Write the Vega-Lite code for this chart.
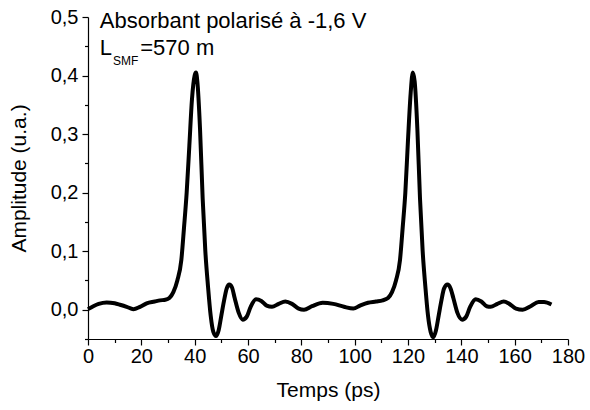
{
  "$schema": "https://vega.github.io/schema/vega-lite/v6.json",
  "autosize": {"type": "none"},
  "padding": {"left": 88, "top": 17, "right": 22, "bottom": 71},
  "width": 480,
  "height": 322,
  "config": {
    "view": {"stroke": null},
    "font": "Liberation Sans",
    "axis": {
      "domainColor": "#000", "tickColor": "#000", "labelColor": "#000", "titleColor": "#000",
      "labelFont": "Liberation Sans", "titleFont": "Liberation Sans",
      "labelFontSize": 20, "titleFontSize": 21, "titleFontWeight": "normal",
      "grid": false, "domainWidth": 1.2, "tickWidth": 1.2, "labelPadding": 2, "labelOverlap": false
    }
  },
  "datasets": {
    "signal": [
    {"t": 0, "v": 0.001}, {"t": 2, "v": 0.006}, {"t": 4, "v": 0.010}, {"t": 7, "v": 0.0125},
    {"t": 10, "v": 0.011}, {"t": 12, "v": 0.0085}, {"t": 14.5, "v": 0.005}, {"t": 17, "v": 0.001},
    {"t": 19.5, "v": 0.005}, {"t": 22, "v": 0.011}, {"t": 25, "v": 0.014}, {"t": 27, "v": 0.016},
    {"t": 29, "v": 0.017}, {"t": 30.5, "v": 0.02}, {"t": 32, "v": 0.03}, {"t": 33.5, "v": 0.05},
    {"t": 35, "v": 0.085}, {"t": 36, "v": 0.14}, {"t": 37, "v": 0.2}, {"t": 38, "v": 0.28},
    {"t": 39, "v": 0.36}, {"t": 40, "v": 0.4}, {"t": 40.5, "v": 0.405}, {"t": 41, "v": 0.39},
    {"t": 42, "v": 0.31}, {"t": 43, "v": 0.19}, {"t": 44, "v": 0.1}, {"t": 45, "v": 0.04},
    {"t": 46, "v": -0.01}, {"t": 47, "v": -0.038}, {"t": 48, "v": -0.045}, {"t": 49, "v": -0.035},
    {"t": 50, "v": -0.01}, {"t": 51, "v": 0.015}, {"t": 52, "v": 0.036}, {"t": 53, "v": 0.043},
    {"t": 54, "v": 0.038}, {"t": 55, "v": 0.02}, {"t": 56.5, "v": -0.005}, {"t": 58, "v": -0.017},
    {"t": 59.5, "v": -0.012}, {"t": 61, "v": 0.005}, {"t": 63, "v": 0.018}, {"t": 65, "v": 0.015},
    {"t": 67, "v": 0.007}, {"t": 69, "v": 0.005}, {"t": 71.5, "v": 0.01}, {"t": 74, "v": 0.014},
    {"t": 76.5, "v": 0.01}, {"t": 79, "v": 0.002}, {"t": 81, "v": 0.0}, {"t": 84, "v": 0.006},
    {"t": 88, "v": 0.012}, {"t": 92, "v": 0.01}, {"t": 96, "v": 0.005}, {"t": 99.5, "v": 0.002},
    {"t": 102, "v": 0.007}, {"t": 105, "v": 0.012}, {"t": 108, "v": 0.014}, {"t": 110.5, "v": 0.016},
    {"t": 112.5, "v": 0.02}, {"t": 114, "v": 0.03}, {"t": 115.5, "v": 0.05}, {"t": 117, "v": 0.085},
    {"t": 118, "v": 0.14}, {"t": 119, "v": 0.2}, {"t": 120, "v": 0.29}, {"t": 121, "v": 0.37},
    {"t": 121.8, "v": 0.405}, {"t": 122.5, "v": 0.39}, {"t": 123.5, "v": 0.31}, {"t": 124.5, "v": 0.19},
    {"t": 125.5, "v": 0.1}, {"t": 126.5, "v": 0.04}, {"t": 127.5, "v": -0.01}, {"t": 128.5, "v": -0.038},
    {"t": 129.5, "v": -0.047}, {"t": 130.5, "v": -0.035}, {"t": 131.5, "v": -0.01}, {"t": 132.5, "v": 0.015},
    {"t": 133.5, "v": 0.036}, {"t": 134.8, "v": 0.043}, {"t": 136, "v": 0.036}, {"t": 137, "v": 0.02},
    {"t": 138.5, "v": -0.005}, {"t": 140.3, "v": -0.017}, {"t": 141.8, "v": -0.012}, {"t": 143.3, "v": 0.005},
    {"t": 145.4, "v": 0.018}, {"t": 147.5, "v": 0.014}, {"t": 149.5, "v": 0.006}, {"t": 151, "v": 0.005},
    {"t": 153.5, "v": 0.01}, {"t": 155.9, "v": 0.014}, {"t": 158, "v": 0.01}, {"t": 160.5, "v": 0.002},
    {"t": 163, "v": 0.0}, {"t": 166, "v": 0.006}, {"t": 169, "v": 0.013}, {"t": 171, "v": 0.013},
    {"t": 173.8, "v": 0.009}
    ],
    "notes": [
      {"t": 4.4, "v": 0.4806, "label": "Absorbant polarisé à -1,6 V", "kind": "big"},
      {"t": 4.4, "v": 0.435, "label": "L", "kind": "big"},
      {"t": 9.4, "v": 0.418, "label": "SMF", "kind": "small"},
      {"t": 19.6, "v": 0.435, "label": "=570 m", "kind": "big"}
    ]
  },
  "layer": [
    {
      "data": {"name": "signal"},
      "mark": {"type": "line", "color": "#000", "strokeWidth": 4, "interpolate": "monotone", "clip": false},
      "encoding": {
        "x": {"field": "t", "type": "quantitative", "title": "Temps (ps)",
          "scale": {"domain": [0, 180], "nice": false, "zero": false},
          "axis": {
            "values": [0,10,20,30,40,50,60,70,80,90,100,110,120,130,140,150,160,170,180],
            "tickCount": 40,
            "labelExpr": "datum.value % 20 === 0 ? datum.label : ''",
            "tickSize": {"condition": {"test": "datum.value % 20 === 0", "value": 6}, "value": 3.5},
            "labelPadding": 1, "titlePadding": 13, "labelFlush": false
          }
        },
        "y": {"field": "v", "type": "quantitative", "title": "Amplitude (u.a.)",
          "scale": {"domain": [-0.05, 0.5], "nice": false, "zero": false},
          "axis": {
            "values": [-0.05,0,0.05,0.1,0.15,0.2,0.25,0.3,0.35,0.4,0.45,0.5],
            "tickCount": 40,
            "labelExpr": "floor(datum.value*20 + 0.5) % 2 === 0 ? replace(format(datum.value, '.1f'), '.', ',') : ''",
            "tickSize": {"condition": {"test": "floor(datum.value*20 + 0.5) % 2 === 0", "value": 6}, "value": 3.5},
            "labelPadding": 4, "titlePadding": 21, "labelFlush": false
          }
        }
      }
    },
    {
      "data": {"name": "notes"},
      "transform": [{"filter": "datum.kind === 'big'"}],
      "mark": {"type": "text", "align": "left", "baseline": "alphabetic", "fontSize": 22, "font": "Liberation Sans", "color": "#000"},
      "encoding": {"x": {"field": "t", "type": "quantitative"}, "y": {"field": "v", "type": "quantitative"}, "text": {"field": "label"}}
    },
    {
      "data": {"name": "notes"},
      "transform": [{"filter": "datum.kind === 'small'"}],
      "mark": {"type": "text", "align": "left", "baseline": "alphabetic", "fontSize": 12, "font": "Liberation Sans", "color": "#000"},
      "encoding": {"x": {"field": "t", "type": "quantitative"}, "y": {"field": "v", "type": "quantitative"}, "text": {"field": "label"}}
    }
  ]
}
